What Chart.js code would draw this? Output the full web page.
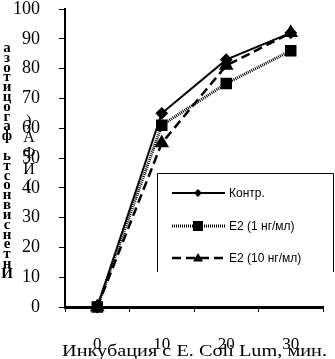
<!DOCTYPE html>
<html>
<head>
<meta charset="utf-8">
<script src="https://cdn.jsdelivr.net/npm/chart.js@4.4.1/dist/chart.umd.min.js"></script>
<style>
html,body{margin:0;padding:0;background:#fff;}
#wrap{width:335px;height:359px;position:relative;}
</style>
</head>
<body>
<div id="wrap"><canvas id="c" width="335" height="359"></canvas></div>
<script>
const categories = ['0', '10', '20', '30'];
const control = [0, 65, 83, 92];
const e2low = [0, 61, 75, 86];
const e2high = [0, 55, 81, 92];
const seriesNames = ['Контр.', 'E2 (1 нг/мл)', 'E2 (10 нг/мл)'];
const yTitle = 'Интенсивность фагоцитоза';
const yTitle2 = '(ИФА)';
const xTitle = 'Инкубация с E. Coli Lum, мин.';

const serif = '"Liberation Serif", "Times New Roman", serif';
const sans = '"Liberation Sans", Arial, sans-serif';

function drawMarker(ctx, style, r, x, y) {
  ctx.save();
  ctx.fillStyle = '#000';
  ctx.beginPath();
  if (style === 'rectRot') {
    ctx.moveTo(x, y - r); ctx.lineTo(x + r, y); ctx.lineTo(x, y + r); ctx.lineTo(x - r, y);
  } else if (style === 'rect') {
    ctx.rect(x - r, y - r, 2 * r, 2 * r);
  } else if (style === 'triangle') {
    ctx.moveTo(x, y - r); ctx.lineTo(x + r, y + r * 0.7); ctx.lineTo(x - r, y + r * 0.7);
  }
  ctx.closePath();
  ctx.fill();
  ctx.restore();
}

const legendPlugin = {
  id: 'customLegend',
  afterDraw(chart) {
    const ctx = chart.ctx;
    ctx.save();
    ctx.strokeStyle = '#000';
    ctx.lineWidth = 1;
    ctx.beginPath();
    ctx.moveTo(157.5, 272); ctx.lineTo(157.5, 173.5); ctx.lineTo(333.5, 173.5); ctx.lineTo(333.5, 272);
    ctx.stroke();
    const ys = [193, 226, 258];
    chart.data.datasets.forEach((ds, i) => {
      const y = ys[i];
      ctx.save();
      ctx.strokeStyle = '#000';
      ctx.lineWidth = ds.borderWidth;
      ctx.setLineDash(ds.borderDash || []);
      ctx.beginPath();
      ctx.moveTo(172, y); ctx.lineTo(225, y);
      ctx.stroke();
      ctx.restore();
      drawMarker(ctx, ds.pointStyle, ds.legendRadius, 198, y);
      ctx.fillStyle = '#000';
      ctx.font = '12px ' + sans;
      ctx.textBaseline = 'middle';
      ctx.textAlign = 'left';
      ctx.fillText(ds.label, 229, y + 1);
    });
    // stacked y-axis title
    ctx.fillStyle = '#000';
    ctx.textAlign = 'center';
    ctx.textBaseline = 'middle';
    ctx.font = 'bold 15px ' + serif;
    const rev = Array.from(yTitle).reverse();
    const top1 = 48, bot1 = 274;
    const step1 = (bot1 - top1) / (rev.length - 1);
    rev.forEach((ch, k) => ctx.fillText(ch, 7, top1 + k * step1));
    ctx.font = '16px ' + serif;
    const rev2 = Array.from(yTitle2).reverse();
    const top2 = 122, bot2 = 186;
    const step2 = (bot2 - top2) / (rev2.length - 1);
    rev2.forEach((ch, k) => ctx.fillText(ch, 29, top2 + k * step2));
    // x-axis title, horizontally stretched
    ctx.save();
    ctx.font = '16px ' + serif;
    ctx.textAlign = 'left';
    ctx.textBaseline = 'middle';
    const w = ctx.measureText(xTitle).width;
    const targetW = 265;
    ctx.translate(62, 352);
    ctx.scale(targetW / w, 1);
    ctx.fillText(xTitle, 0, 0);
    ctx.restore();
    ctx.restore();
  }
};

new Chart(document.getElementById('c'), {
  type: 'line',
  data: {
    labels: categories,
    datasets: [
      { label: seriesNames[0], data: control, borderColor: '#000', backgroundColor: '#000', borderWidth: 2,
        pointStyle: 'rectRot', pointRadius: 5, legendRadius: 4, pointBackgroundColor: '#000', pointBorderColor: '#000', clip: false, tension: 0 },
      { label: seriesNames[1], data: e2low, borderColor: '#000', backgroundColor: '#000', borderWidth: 3, borderDash: [1, 1],
        pointStyle: 'rect', pointRadius: 6, legendRadius: 5, pointBackgroundColor: '#000', pointBorderColor: '#000', clip: false, tension: 0 },
      { label: seriesNames[2], data: e2high, borderColor: '#000', backgroundColor: '#000', borderWidth: 2.5, borderDash: [9, 5],
        pointStyle: 'triangle', pointRadius: 6, legendRadius: 5, pointBackgroundColor: '#000', pointBorderColor: '#000', clip: false, tension: 0 }
    ]
  },
  options: {
    responsive: false,
    animation: false,
    devicePixelRatio: 1,
    layout: { padding: { top: 9, right: 12, bottom: 0, left: 0 } },
    plugins: { legend: { display: false }, tooltip: { enabled: false } },
    scales: {
      x: {
        type: 'category',
        offset: true,
        grid: { display: true, drawOnChartArea: false, drawTicks: true, tickLength: 5, color: '#000', offset: true, lineWidth: 1 },
        border: { display: true, color: '#000', width: 3 },
        ticks: { color: '#000', font: { family: serif, size: 17 }, padding: 22, maxRotation: 0 },
        title: { display: false },
        afterFit(scale) { scale.height = 52; scale.paddingLeft = 0; scale.paddingRight = 0; }
      },
      y: {
        min: 0, max: 100,
        ticks: { stepSize: 10, color: '#000', font: { family: serif, size: 18 }, padding: 19 },
        grid: { display: true, drawOnChartArea: false, drawTicks: true, tickLength: 6, color: '#000', lineWidth: 1 },
        border: { display: true, color: '#000', width: 2 },
        afterFit(scale) { scale.width = 65; scale.paddingTop = 0; scale.paddingBottom = 0; }
      }
    }
  },
  plugins: [legendPlugin]
});
</script>
</body>
</html>
